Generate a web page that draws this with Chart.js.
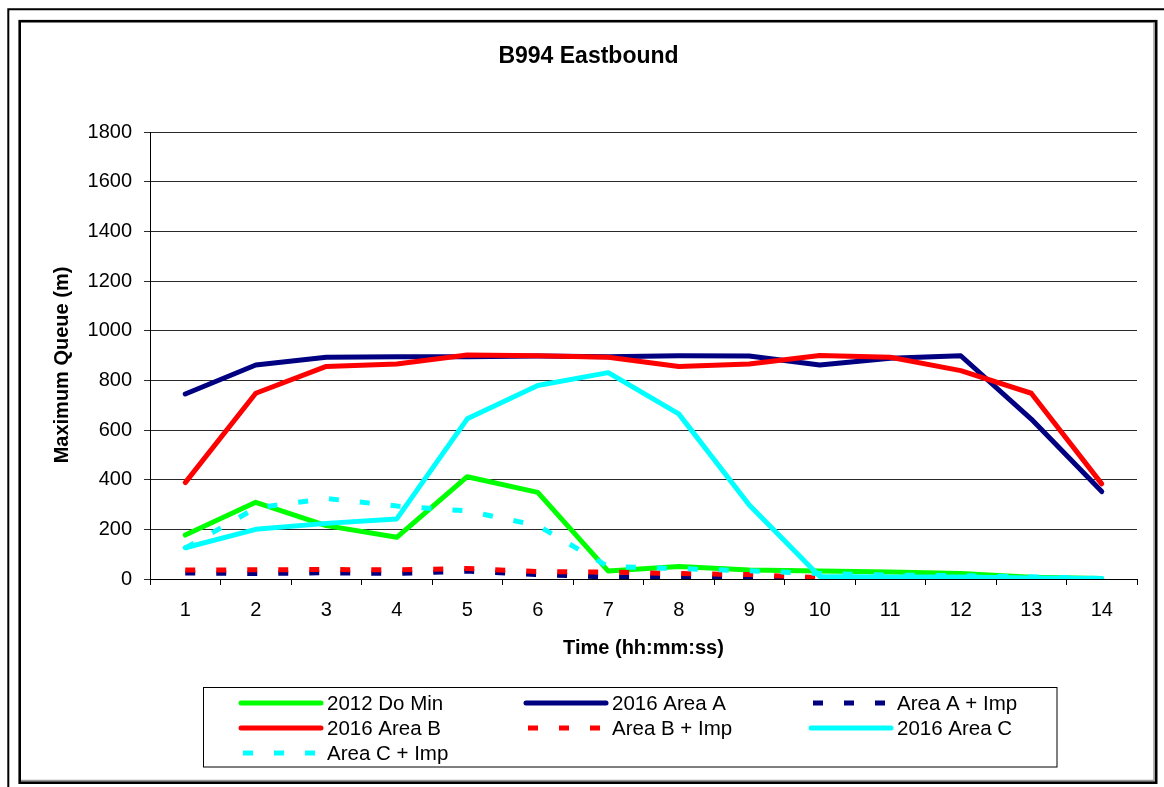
<!DOCTYPE html>
<html>
<head>
<meta charset="utf-8">
<title>B994 Eastbound</title>
<script src="https://cdn.jsdelivr.net/npm/chart.js@4/dist/chart.umd.min.js"></script>
<style>
  html, body { margin: 0; padding: 0; background: #ffffff; }
  #wrap { width: 1164px; height: 787px; position: relative; }
</style>
</head>
<body>
<div id="wrap"><canvas id="chart" width="1164" height="787"></canvas></div>
<script>
// Time periods along the x axis
const categories = ['1', '2', '3', '4', '5', '6', '7', '8', '9', '10', '11', '12', '13', '14'];

// Maximum queue length (m) per scenario
const doMin2012 = [177, 309, 215, 168, 412, 349, 32, 50, 36, 32, 28, 22, 7, 2];
const areaA2016 = [745, 862, 893, 895, 895, 898, 895, 899, 898, 862, 889, 899, 644, 352];
const areaAImp  = [24, 22, 25, 22, 32, 18, 8, 8, 4, 2, 0, 0, 0, 0];
const areaB2016 = [388, 748, 856, 866, 902, 899, 893, 856, 866, 900, 893, 839, 748, 383];
const areaBImp  = [36, 37, 38, 37, 42, 30, 28, 22, 18, 5, 0, 0, 0, 0];
const areaC2016 = [126, 200, 224, 242, 645, 779, 831, 665, 298, 10, 8, 8, 4, 2];
const areaCImp  = [124, 286, 324, 294, 274, 215, 50, 42, 33, 22, 16, 13, 9, 2];

// Y axis tick values
const yTicks = [0, 200, 400, 600, 800, 1000, 1200, 1400, 1600, 1800];

const seriesNames = ['2012 Do Min', '2016 Area A', 'Area A + Imp', '2016 Area B',
                     'Area B + Imp', '2016 Area C', 'Area C + Imp'];
const seriesData = [doMin2012, areaA2016, areaAImp, areaB2016, areaBImp, areaC2016, areaCImp];
const seriesColors = ['#00FF00', '#000080', '#000080', '#FF0000', '#FF0000', '#00FFFF', '#00FFFF'];
const seriesDashed = [false, false, true, false, true, false, true];

const FONT = '"Liberation Sans", Arial, Helvetica, sans-serif';
const DASH = [10, 21];

const datasets = seriesNames.map((name, i) => ({
  label: name,
  data: seriesData[i],
  borderColor: seriesColors[i],
  backgroundColor: seriesColors[i],
  borderWidth: 5,
  borderDash: seriesDashed[i] ? DASH : [],
  borderCapStyle: seriesDashed[i] ? 'butt' : 'round',
  borderJoinStyle: 'round',
  pointRadius: 0,
  pointHoverRadius: 0,
  tension: 0,
  fill: false,
  // later series are painted over earlier ones
  order: seriesNames.length - i
}));

// Frame, title, rotated axis title and the boxed three-column key
const decorations = {
  id: 'decorations',
  afterDraw(chart) {
    const ctx = chart.ctx;
    ctx.save();

    // outer frame lines
    ctx.strokeStyle = '#000';
    ctx.lineWidth = 2;
    ctx.beginPath();
    ctx.moveTo(8.3, 787); ctx.lineTo(8.3, 9.3); ctx.lineTo(1164, 9.3);
    ctx.stroke();

    // inner chart border with a faint shadow
    ctx.strokeStyle = '#9a9a9a';
    ctx.lineWidth = 1.5;
    ctx.beginPath();
    ctx.moveTo(1154, 23); ctx.lineTo(1154, 780.5); ctx.lineTo(21, 780.5);
    ctx.stroke();
    ctx.strokeStyle = '#000';
    ctx.lineWidth = 2.6;
    ctx.strokeRect(19.7, 21.2, 1136.5, 761.5);

    // chart title
    ctx.fillStyle = '#000';
    ctx.font = 'bold 23px ' + FONT;
    ctx.textAlign = 'center';
    ctx.textBaseline = 'middle';
    ctx.fillText('B994 Eastbound', 588.5, 57);

    // y axis title
    ctx.save();
    ctx.translate(62, 365);
    ctx.rotate(-Math.PI / 2);
    ctx.font = 'bold 20px ' + FONT;
    ctx.fillText('Maximum Queue (m)', 0, 0);
    ctx.restore();

    // key box
    ctx.strokeStyle = '#000';
    ctx.lineWidth = 1;
    ctx.strokeRect(203.5, 687.5, 853.5, 79.5);

    const colX = [241, 526, 811];
    const rowY = [703, 728, 753];
    ctx.font = '20.5px ' + FONT;
    ctx.textAlign = 'left';
    chart.data.datasets.forEach((ds, i) => {
      const x = colX[i % 3];
      const y = rowY[Math.floor(i / 3)];
      ctx.strokeStyle = ds.borderColor;
      ctx.lineWidth = 5;
      ctx.lineCap = ds.borderCapStyle;
      ctx.setLineDash(ds.borderDash);
      ctx.lineDashOffset = ds.borderDash.length ? -2 : 0;
      ctx.beginPath();
      ctx.moveTo(x, y);
      ctx.lineTo(x + 80, y);
      ctx.stroke();
      ctx.setLineDash([]);
      ctx.fillStyle = '#000';
      ctx.fillText(ds.label, x + 86, y + 1);
    });

    ctx.restore();
  }
};

new Chart(document.getElementById('chart'), {
  type: 'line',
  data: { labels: categories, datasets },
  options: {
    responsive: false,
    animation: false,
    events: [],
    layout: { padding: { left: 20, right: 27, top: 132, bottom: 118 } },
    plugins: {
      legend: { display: false },
      title: { display: false },
      tooltip: { enabled: false }
    },
    scales: {
      x: {
        offset: true,
        afterFit(scale) { scale.height = 90; },
        grid: {
          offset: true,
          drawOnChartArea: false,
          drawTicks: true,
          tickLength: 6,
          color: '#000',
          lineWidth: 1
        },
        border: { display: true, color: '#000', width: 1 },
        ticks: {
          color: '#000',
          padding: 13,
          maxRotation: 0,
          autoSkip: false,
          font: { family: FONT, size: 20 }
        },
        title: {
          display: true,
          text: 'Time (hh:mm:ss)',
          color: '#000',
          padding: { top: 0, bottom: 9 },
          font: { family: FONT, size: 20, weight: 'bold' }
        }
      },
      y: {
        min: 0,
        max: 1800,
        afterFit(scale) { scale.width = 130; },
        afterBuildTicks(scale) { scale.ticks = yTicks.map(v => ({ value: v })); },
        grid: {
          drawOnChartArea: true,
          drawTicks: true,
          tickLength: 6,
          color: '#2a2a2a',
          lineWidth: 1
        },
        border: { display: true, color: '#000', width: 1 },
        ticks: {
          color: '#000',
          padding: 12,
          callback: (value) => String(value),
          font: { family: FONT, size: 20 }
        },
        title: { display: false }
      }
    }
  },
  plugins: [decorations]
});
</script>
</body>
</html>
